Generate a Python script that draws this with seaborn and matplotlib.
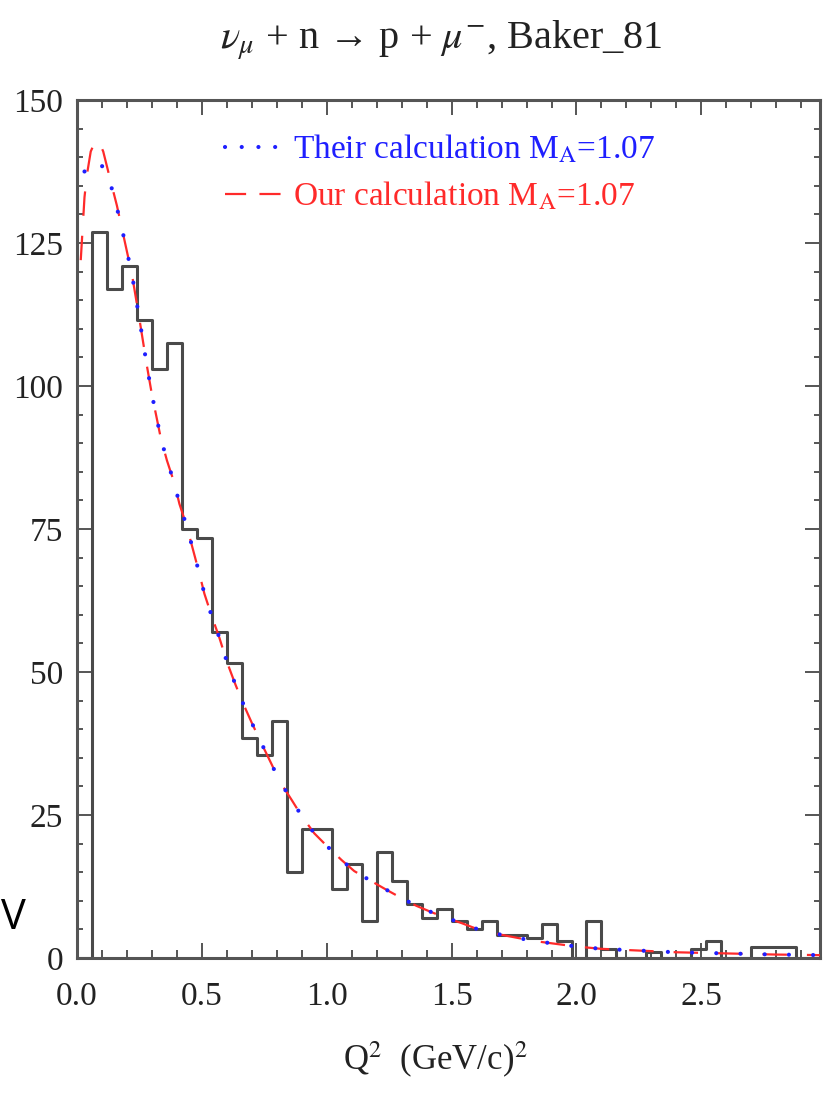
import numpy as np
import pandas as pd
import matplotlib
matplotlib.use("Agg")
import matplotlib.pyplot as plt
import seaborn as sns
from matplotlib.lines import Line2D
from matplotlib.ticker import MultipleLocator

# ---- data ---------------------------------------------------------------
# event histogram, bins of 0.06 (GeV/c)^2 from 0 to 3
bin_edges = [round(0.06 * i, 2) for i in range(51)]
events = [0, 127, 117, 121, 111.5, 103, 107.5, 75, 73.5, 57,
          51.5, 38.5, 35.5, 41.5, 15, 22.5, 22.5, 12, 16.5, 6.5,
          18.5, 13.5, 9.5, 7, 8.5, 6.5, 5, 6.5, 4, 4,
          3.5, 6, 3, 0, 6.5, 1.5, 0, 0, 1, 0,
          0, 1.5, 3, 0, 0, 2, 2, 2, 0, 0]

# their calculation, M_A = 1.07
q2_their = [0.03, 0.05, 0.09, 0.13, 0.155, 0.18, 0.20, 0.22, 0.25, 0.28,
            0.30, 0.335, 0.36, 0.39, 0.41, 0.44, 0.465, 0.49, 0.51, 0.54,
            0.57, 0.60, 0.63, 0.66, 0.70, 0.74, 0.78, 0.81, 0.86, 0.90,
            0.95, 1.00, 1.06, 1.11, 1.18, 1.24, 1.29, 1.36, 1.42, 1.48,
            1.54, 1.60, 1.66, 1.73, 1.79, 1.86, 1.93, 2.00, 2.10, 2.20,
            2.30, 2.40, 2.50, 2.60, 2.70, 2.80, 2.90, 2.975]
dsig_their = [137.5, 138.5, 139.3, 136.0, 132.0, 127.5, 123.5, 119.5, 111.7, 103.5,
              98.5, 91.0, 87.0, 83.0, 79.4, 75.4, 71.3, 67.2, 63.7, 59.7,
              56.0, 51.8, 48.3, 45.0, 41.1, 37.4, 33.8, 31.0, 27.6, 24.8,
              21.8, 19.6, 17.1, 15.2, 13.4, 11.9, 10.7, 9.1, 8.0, 7.0,
              6.1, 5.1, 4.4, 3.8, 3.3, 2.8, 2.4, 2.0, 1.6, 1.4,
              1.2, 1.0, 0.9, 0.8, 0.7, 0.6, 0.55, 0.5]

# our calculation, M_A = 1.07
q2_our = [0.015, 0.03, 0.04, 0.055, 0.075, 0.09, 0.105, 0.125, 0.16, 0.18,
          0.20, 0.22, 0.25, 0.28, 0.30, 0.335, 0.36, 0.39, 0.41, 0.44,
          0.465, 0.49, 0.51, 0.54, 0.57, 0.60, 0.63, 0.66, 0.70, 0.74,
          0.78, 0.81, 0.86, 0.90, 0.95, 1.00, 1.06, 1.11, 1.18, 1.24,
          1.29, 1.36, 1.42, 1.48, 1.54, 1.60, 1.66, 1.73, 1.79, 1.86,
          1.93, 2.00, 2.10, 2.20, 2.30, 2.40, 2.50, 2.60, 2.70, 2.80,
          2.90, 2.975]
dsig_our = [122.0, 133.0, 137.0, 141.0, 143.0, 142.5, 141.0, 137.5, 131.5, 127.5,
            123.5, 119.5, 111.7, 103.5, 98.5, 91.0, 87.0, 83.0, 79.4, 75.4,
            71.3, 67.2, 63.7, 59.7, 56.0, 51.8, 48.3, 45.0, 41.1, 37.4,
            33.8, 31.0, 27.6, 24.8, 21.8, 19.6, 17.1, 15.2, 13.4, 11.9,
            10.7, 9.1, 8.0, 7.0, 6.1, 5.1, 4.4, 3.8, 3.3, 2.8,
            2.4, 2.0, 1.6, 1.4, 1.2, 1.0, 0.9, 0.8, 0.7, 0.6,
            0.55, 0.5]

x_ticks = [0.0, 0.5, 1.0, 1.5, 2.0, 2.5]
x_ticklabels = ["0.0", "0.5", "1.0", "1.5", "2.0", "2.5"]
y_ticks = [0, 25, 50, 75, 100, 125, 150]
y_ticklabels = ["0", "25", "50", "75", "100", "125", "150"]

title_text = r"$\nu_\mu$ + n → p + $\mu^{-}$, Baker_81"
label_their = r"Their calculation M$_\mathrm{A}$=1.07"
label_our = r"Our calculation M$_\mathrm{A}$=1.07"
xlabel_text = r"Q$^2$  (GeV/c)$^2$"

# ---- style --------------------------------------------------------------
sns.set_theme(style="ticks")
plt.rcParams["font.family"] = ["Liberation Serif", "DejaVu Serif"]
plt.rcParams["mathtext.fontset"] = "stix"

BLUE = "#1f1fff"
RED = "#ff2a2a"
HIST = "#4a4a4a"
AXC = "#555555"
FS = 24

W, H = 824, 1108
fig = plt.figure(figsize=(W / 100, H / 100), dpi=100)
ax = fig.add_axes([77 / W, 1 - 958 / H, (820 - 77) / W, (958 - 100) / H])

# histogram of events
centers = [(a + b) / 2 for a, b in zip(bin_edges[:-1], bin_edges[1:])]
hist_df = pd.DataFrame({"q2": centers, "n": events})
sns.histplot(data=hist_df, x="q2", weights="n", bins=bin_edges,
             element="step", fill=False, color=HIST, linewidth=2.2, ax=ax)

# calculations
sns.lineplot(x=q2_their, y=dsig_their, color=BLUE, linewidth=3.0,
             linestyle=(0, (0.01, 5.8)), dash_capstyle="round", ax=ax,
             zorder=4)
sns.lineplot(x=q2_our, y=dsig_our, color=RED, linewidth=1.6,
             linestyle=(0, (11, 9)), ax=ax, zorder=3)

ax.set_xlim(0, 2.975)
ax.set_ylim(0, 150)
ax.set_xlabel("")
ax.set_ylabel("")
ax.set_xticks(x_ticks, x_ticklabels)
ax.set_yticks(y_ticks, y_ticklabels)
ax.xaxis.set_minor_locator(MultipleLocator(0.1))
ax.yaxis.set_minor_locator(MultipleLocator(5))
ax.tick_params(which="both", direction="in", top=True, right=True,
               color=AXC, width=1.4, labelsize=FS, labelcolor="#222222")
ax.tick_params(which="major", length=11)
ax.tick_params(axis="x", which="minor", length=6)
ax.tick_params(axis="y", which="minor", length=4)
ax.tick_params(axis="y", which="major", pad=10)
ax.tick_params(axis="x", which="major", pad=17)
for s in ax.spines.values():
    s.set_color(AXC)
    s.set_linewidth(2.2)

# legend
h_their = Line2D([], [], color=BLUE, linewidth=3.0,
                 linestyle=(0, (0.01, 4.0)), dash_capstyle="round")
h_our = Line2D([], [], color=RED, linewidth=1.6, linestyle=(0, (9.5, 6)))
ax.legend(handles=[h_their, h_our], labels=[label_their, label_our],
          loc="upper left", bbox_to_anchor=((225 - 77) / 743, (958 - 133) / 858),
          frameon=False, fontsize=FS, handlelength=1.7, handletextpad=0.33,
          labelspacing=0.45, borderpad=0, borderaxespad=0,
          labelcolor=[BLUE, RED])

# titles and labels
fig.text(441 / W, 1 - 40 / H, title_text, ha="center", va="center",
         fontsize=29, color="#222222")
fig.text(435 / W, 1 - 1060 / H, xlabel_text, ha="center", va="center",
         fontsize=25, color="#222222")
fig.text(13 / W, 1 - 918 / H, "V", ha="center", va="center",
         fontsize=30, color="black", family=["Open Sans", "DejaVu Sans"])

fig.savefig("out.png", dpi=100)
